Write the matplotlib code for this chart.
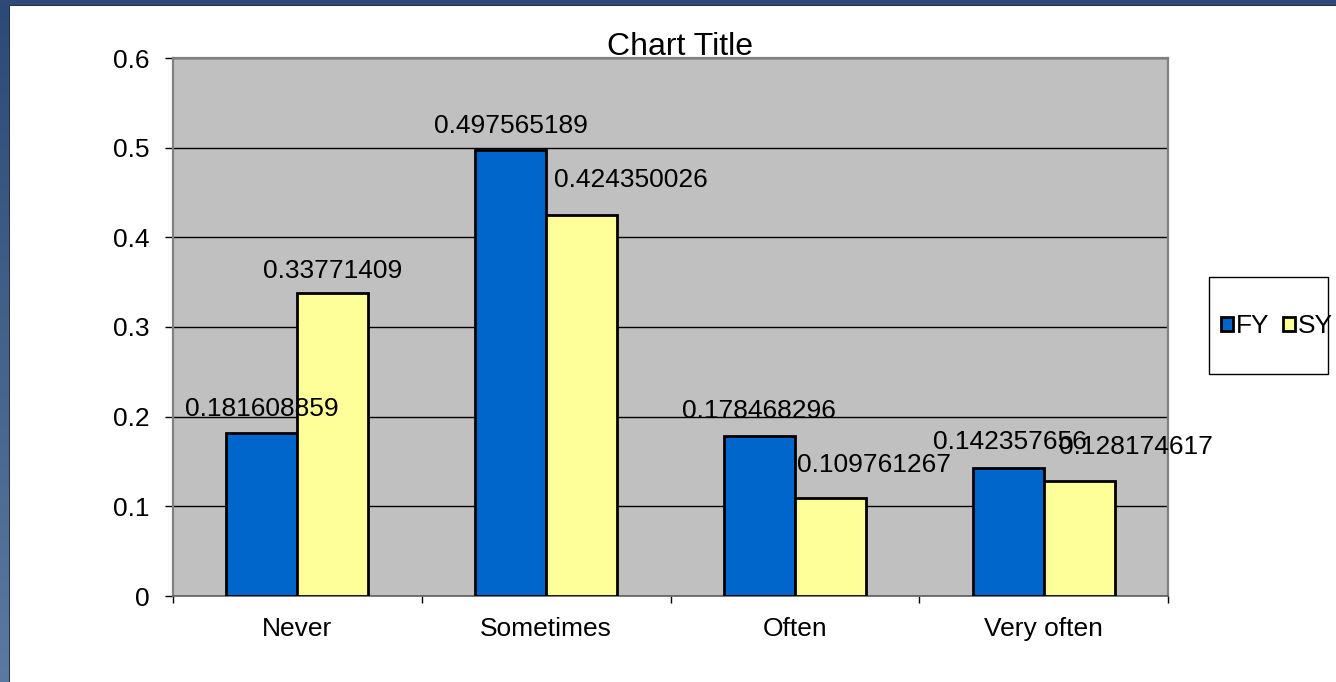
import matplotlib
matplotlib.use('Agg')
import matplotlib.pyplot as plt
import numpy as np
from matplotlib.patches import Rectangle, Patch

categories = ['Never', 'Sometimes', 'Often', 'Very often']
fy_values = [0.181608859, 0.497565189, 0.178468296, 0.142357656]
sy_values = [0.33771409, 0.424350026, 0.109761267, 0.128174617]
series_names = ['FY', 'SY']
y_ticks = [0, 0.1, 0.2, 0.3, 0.4, 0.5, 0.6]
y_tick_labels = ['0', '0.1', '0.2', '0.3', '0.4', '0.5', '0.6']
title = 'Chart Title'

# label placement offsets (points) relative to the top centre of each bar
fy_label_offsets = [(0, 12), (0, 12), (0, 12.7), (1.4, 13.7)]
sy_label_offsets = [(0, 11.2), (35.3, 20.3), (31.2, 18.6), (40.9, 19.5)]

plt.rcParams['font.family'] = ['Liberation Sans', 'DejaVu Sans']
FS = 19

W, H = 1336, 682
fig = plt.figure(figsize=(W / 100, H / 100), dpi=100)
fig.patch.set_facecolor('white')

# frame decoration (top band and left gradient band)
fig.patches.append(Rectangle((0, 1 - 5 / H), 1, 5 / H, transform=fig.transFigure,
                             facecolor='#2E4A78', edgecolor='none', zorder=10))
fig.patches.append(Rectangle((9 / W, 1 - 6 / H), 1, 1.2 / H, transform=fig.transFigure,
                             facecolor='#22324a', edgecolor='none', zorder=10))
gax = fig.add_axes([0, 0, 9 / W, 1 - 5 / H])
grad = np.linspace(0, 1, 256).reshape(-1, 1)
top_c = np.array([0x2C, 0x4A, 0x78]) / 255
bot_c = np.array([0x5A, 0x7A, 0xA0]) / 255
img = top_c[None, None, :] * (1 - grad[:, :, None]) + bot_c[None, None, :] * grad[:, :, None]
gax.imshow(img, aspect='auto', extent=[0, 1, 0, 1])
gax.axis('off')
fig.patches.append(Rectangle((9 / W, 0), 1.2 / W, 1 - 5 / H, transform=fig.transFigure,
                             facecolor='#22324a', edgecolor='none', zorder=10))

ax = fig.add_axes([173 / W, 1 - 596 / H, (1168 - 173) / W, (596 - 58) / H])
ax.set_facecolor('#C0C0C0')
x = np.arange(len(categories))
bw = 1 / 3.5
ax.bar(x - bw / 2, fy_values, bw, color='#0066CC', edgecolor='black', linewidth=2, zorder=3)
ax.bar(x + bw / 2, sy_values, bw, color='#FFFF99', edgecolor='black', linewidth=2, zorder=4)
for xi, v, off in zip(x, fy_values, fy_label_offsets):
    ax.annotate(f'{v:.9g}', (xi - bw / 2, v), xytext=off, textcoords='offset points',
                ha='center', va='baseline', fontsize=FS, zorder=6, annotation_clip=False)
for xi, v, off in zip(x, sy_values, sy_label_offsets):
    ax.annotate(f'{v:.9g}', (xi + bw / 2, v), xytext=off, textcoords='offset points',
                ha='center', va='baseline', fontsize=FS, zorder=7, annotation_clip=False)

ax.set_xlim(-0.5, len(categories) - 0.5)
ax.set_ylim(0, 0.6)
ax.set_yticks(y_ticks)
ax.set_yticklabels(y_tick_labels)
ax.set_xticks(x)
ax.set_xticklabels(categories)
ax.set_xticks(np.arange(len(categories) + 1) - 0.5, minor=True)
ax.tick_params(axis='x', which='major', length=0, pad=15, labelsize=FS)
ax.tick_params(axis='x', which='minor', length=5, width=1, direction='out', color='black')
ax.tick_params(axis='y', length=5.8, width=1, direction='out', color='black', pad=11, labelsize=FS)
ax.set_axisbelow(True)
ax.yaxis.grid(True, color='black', linewidth=1)

for s in ['top', 'right', 'left']:
    ax.spines[s].set_color('#808080')
    ax.spines[s].set_linewidth(1.6)
ax.spines['bottom'].set_color('#606060')
ax.spines['bottom'].set_linewidth(1.2)

ax.annotate(title, (0.5, 1.0), xycoords='axes fraction', xytext=(6.5, 2),
            textcoords='offset points', ha='center', va='baseline', fontsize=23,
            annotation_clip=False, zorder=10)

# legend
fig.patches.append(Rectangle((1209 / W, 1 - 374 / H), (1328 - 1209) / W, (374 - 277) / H,
                             transform=fig.transFigure, facecolor='white',
                             edgecolor='black', linewidth=1, zorder=1))
handles = [Patch(facecolor='#0066CC', edgecolor='black', linewidth=2),
           Patch(facecolor='#FFFF99', edgecolor='black', linewidth=2)]
leg = fig.legend(handles, series_names, loc='center', bbox_to_anchor=(1277 / W, 1 - 326 / H),
                 ncol=2, frameon=False, fontsize=FS, handlelength=0.45, handleheight=0.45,
                 handletextpad=0.12, columnspacing=0.5, borderpad=0, borderaxespad=0)
leg.set_zorder(5)

fig.savefig('out.png', dpi=100, facecolor='white')
